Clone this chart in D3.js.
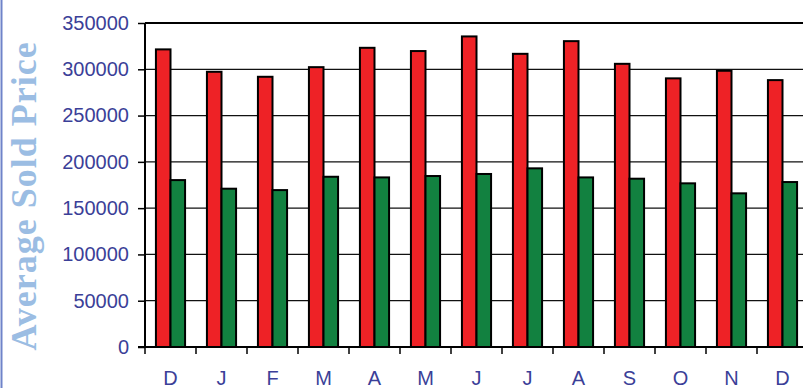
<!DOCTYPE html>
<html>
<head>
<meta charset="utf-8">
<script src="https://cdn.jsdelivr.net/npm/d3@7"></script>
<style>
  html, body { margin: 0; padding: 0; background: #fff; overflow: hidden; }
  svg { display: block; }
</style>
</head>
<body>
<svg id="chart" width="803" height="388"></svg>
<script>
// Monthly average sold price, two series
const months = ["D", "J", "F", "M", "A", "M", "J", "J", "A", "S", "O", "N", "D"];
const seriesA = [321500, 297300, 291900, 302300, 323200, 319700, 335500, 316700, 330400, 305900, 290200, 298400, 288300];
const seriesB = [180300, 171000, 169500, 183900, 183200, 184700, 186900, 193000, 183200, 181800, 176800, 166000, 178200];
const yTicks = [0, 50000, 100000, 150000, 200000, 250000, 300000, 350000];
const yTitle = "Average Sold Price";

const svg = d3.select("#chart");
const plotLeft = 145, plotTop = 23, plotBottom = 347, step = 51;

const x = d3.scaleBand()
  .domain(d3.range(months.length))
  .range([plotLeft, plotLeft + step * months.length])
  .paddingInner(0).paddingOuter(0);

const y = d3.scaleLinear().domain([0, 350000]).range([plotBottom, plotTop]);

const barW = x.bandwidth() / 3.5;
const tickColor = "#3b3f98";

// outer chart border on the left edge
svg.append("line")
  .attr("x1", 1.5).attr("x2", 1.5).attr("y1", 0).attr("y2", 388)
  .attr("stroke", "#6f83c9").attr("stroke-width", 2);

// horizontal gridlines
svg.append("g").selectAll("line")
  .data(yTicks.filter(d => d > 0 && d < 350000))
  .join("line")
  .attr("x1", plotLeft).attr("x2", 803)
  .attr("y1", d => y(d)).attr("y2", d => y(d))
  .attr("stroke", "#111").attr("stroke-width", 1.3);

// top border of the plot area
svg.append("line")
  .attr("x1", plotLeft).attr("x2", 803)
  .attr("y1", y(350000)).attr("y2", y(350000))
  .attr("stroke", "#000").attr("stroke-width", 2.2);

// bars
const bars = svg.append("g");
bars.selectAll("rect.a")
  .data(seriesA)
  .join("rect")
  .attr("class", "a")
  .attr("x", (d, i) => x(i) + x.bandwidth() / 2 - barW)
  .attr("width", barW)
  .attr("y", d => y(d))
  .attr("height", d => y(0) - y(d))
  .attr("fill", "#ee2226")
  .attr("stroke", "#000").attr("stroke-width", 2);

bars.selectAll("rect.b")
  .data(seriesB)
  .join("rect")
  .attr("class", "b")
  .attr("x", (d, i) => x(i) + x.bandwidth() / 2)
  .attr("width", barW)
  .attr("y", d => y(d))
  .attr("height", d => y(0) - y(d))
  .attr("fill", "#128140")
  .attr("stroke", "#000").attr("stroke-width", 2);

// y axis
const yAxis = d3.axisLeft(y)
  .tickValues(yTicks)
  .tickSize(7)
  .tickPadding(9)
  .tickFormat(d3.format("d"));
const gy = svg.append("g").attr("transform", `translate(${plotLeft},0)`).call(yAxis);
gy.select(".domain").attr("stroke", "#000").attr("stroke-width", 2)
  .attr("d", `M0,${plotTop}V${plotBottom}`);
gy.selectAll(".tick line").attr("stroke", "#000").attr("stroke-width", 1.5);
gy.selectAll(".tick text")
  .attr("fill", tickColor)
  .attr("font-family", "Liberation Sans, Arial, sans-serif")
  .attr("font-size", 20);

// x axis: ticks at category boundaries, labels centered in each band
const gx = svg.append("g");
gx.append("line")
  .attr("x1", plotLeft - 7).attr("x2", 803)
  .attr("y1", plotBottom).attr("y2", plotBottom)
  .attr("stroke", "#000").attr("stroke-width", 2);
gx.selectAll("line.tk")
  .data(d3.range(months.length + 1))
  .join("line")
  .attr("class", "tk")
  .attr("x1", i => plotLeft + i * x.step()).attr("x2", i => plotLeft + i * x.step())
  .attr("y1", plotBottom).attr("y2", plotBottom + 7)
  .attr("stroke", "#000").attr("stroke-width", 1.5);
gx.selectAll("text")
  .data(months)
  .join("text")
  .attr("x", (d, i) => x(i) + x.bandwidth() / 2)
  .attr("y", 385)
  .attr("text-anchor", "middle")
  .attr("fill", tickColor)
  .attr("font-family", "Liberation Sans, Arial, sans-serif")
  .attr("font-size", 20)
  .text(d => d);

// y axis title
svg.append("text")
  .attr("transform", "translate(36,196) rotate(-90)")
  .attr("text-anchor", "middle")
  .attr("fill", "#9bbde3")
  .attr("font-family", "Liberation Serif, Times New Roman, serif")
  .attr("font-weight", "bold")
  .attr("font-size", 36)
  .attr("letter-spacing", 1)
  .text(yTitle);
</script>
</body>
</html>
